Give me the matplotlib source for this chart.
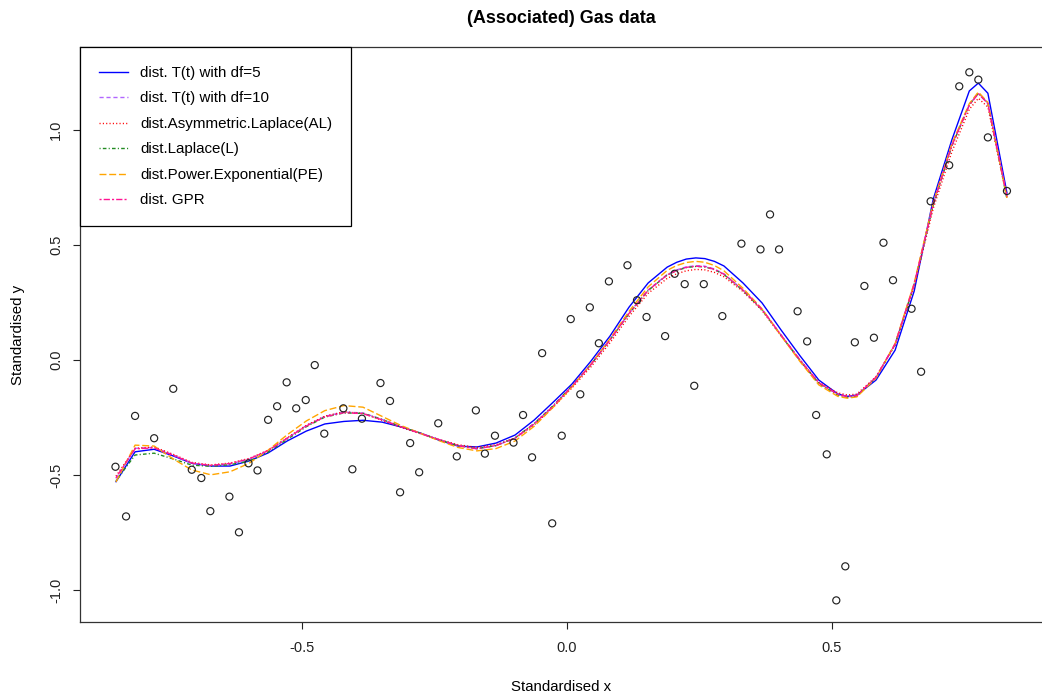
import matplotlib
matplotlib.use("Agg")
import matplotlib.pyplot as plt

plt.rcParams["font.family"] = ["Liberation Sans", "DejaVu Sans"]

# observed (standardised) gas data
x_obs = [-0.852, -0.832, -0.815, -0.779, -0.743, -0.708, -0.690, -0.673, -0.637, -0.619,
         -0.601, -0.584, -0.564, -0.547, -0.529, -0.511, -0.493, -0.476, -0.458, -0.422,
         -0.405, -0.387, -0.352, -0.334, -0.315, -0.296, -0.279, -0.243, -0.208, -0.172,
         -0.155, -0.136, -0.101, -0.083, -0.066, -0.047, -0.028, -0.010, 0.007, 0.025,
         0.043, 0.060, 0.079, 0.114, 0.132, 0.150, 0.185, 0.203, 0.222, 0.240,
         0.258, 0.293, 0.329, 0.365, 0.383, 0.400, 0.435, 0.453, 0.470, 0.490,
         0.508, 0.525, 0.543, 0.561, 0.579, 0.597, 0.615, 0.650, 0.668, 0.686,
         0.721, 0.740, 0.759, 0.776, 0.794, 0.830]
y_obs = [-0.464, -0.680, -0.243, -0.340, -0.125, -0.477, -0.513, -0.657, -0.594, -0.749,
         -0.449, -0.480, -0.260, -0.201, -0.097, -0.210, -0.174, -0.022, -0.320, -0.210,
         -0.475, -0.255, -0.100, -0.178, -0.575, -0.361, -0.488, -0.275, -0.419, -0.219,
         -0.407, -0.329, -0.359, -0.239, -0.423, 0.030, -0.710, -0.329, 0.178, -0.149,
         0.229, 0.073, 0.342, 0.412, 0.260, 0.187, 0.104, 0.375, 0.330, -0.112,
         0.330, 0.191, 0.506, 0.481, 0.633, 0.481, 0.212, 0.081, -0.239, -0.410,
         -1.045, -0.897, 0.077, 0.322, 0.097, 0.510, 0.347, 0.223, -0.051, 0.690,
         0.847, 1.190, 1.251, 1.219, 0.968, 0.735]

# fitted curves
x_fit = [-0.851, -0.815, -0.779, -0.743, -0.708, -0.672, -0.636, -0.600, -0.564, -0.528,
         -0.492, -0.457, -0.421, -0.385, -0.349, -0.313, -0.277, -0.242, -0.206, -0.170,
         -0.134, -0.098, -0.062, -0.026, 0.009, 0.045, 0.081, 0.117, 0.153, 0.189,
         0.207, 0.225, 0.243, 0.260, 0.278, 0.296, 0.332, 0.368, 0.404, 0.440, 0.475,
         0.511, 0.529, 0.547, 0.583, 0.619, 0.655, 0.691, 0.726, 0.759, 0.776, 0.794, 0.830]
y_t5 = [-0.529, -0.399, -0.388, -0.417, -0.449, -0.461, -0.461, -0.439, -0.404, -0.352,
        -0.309, -0.278, -0.267, -0.262, -0.270, -0.291, -0.317, -0.348, -0.374, -0.378,
        -0.361, -0.326, -0.261, -0.183, -0.105, -0.005, 0.104, 0.230, 0.335, 0.404,
        0.425, 0.439, 0.444, 0.441, 0.429, 0.409, 0.335, 0.248, 0.130, 0.017, -0.087,
        -0.148, -0.158, -0.152, -0.087, 0.043, 0.300, 0.700, 0.957, 1.170, 1.204, 1.160, 0.726]
y_t10 = [-0.515, -0.384, -0.380, -0.413, -0.449, -0.460, -0.452, -0.432, -0.396, -0.340,
         -0.285, -0.245, -0.226, -0.230, -0.258, -0.290, -0.318, -0.345, -0.372, -0.386,
         -0.372, -0.340, -0.278, -0.200, -0.115, -0.020, 0.088, 0.205, 0.305, 0.372,
         0.392, 0.405, 0.410, 0.408, 0.396, 0.375, 0.305, 0.220, 0.108, -0.002, -0.100,
         -0.150, -0.160, -0.155, -0.075, 0.070, 0.330, 0.680, 0.935, 1.110, 1.162, 1.116, 0.710]
y_al = [-0.505, -0.384, -0.378, -0.410, -0.445, -0.456, -0.448, -0.428, -0.392, -0.338,
        -0.284, -0.244, -0.225, -0.232, -0.262, -0.293, -0.320, -0.345, -0.368, -0.380,
        -0.368, -0.340, -0.282, -0.205, -0.122, -0.030, 0.075, 0.190, 0.290, 0.355,
        0.375, 0.388, 0.394, 0.392, 0.381, 0.362, 0.298, 0.215, 0.105, -0.002, -0.097,
        -0.143, -0.152, -0.148, -0.072, 0.065, 0.320, 0.660, 0.905, 1.090, 1.138, 1.100, 0.705]
y_lap = [-0.525, -0.413, -0.405, -0.430, -0.457, -0.462, -0.455, -0.440, -0.400, -0.345,
         -0.290, -0.248, -0.230, -0.232, -0.258, -0.290, -0.318, -0.347, -0.372, -0.385,
         -0.372, -0.338, -0.276, -0.198, -0.113, -0.020, 0.088, 0.202, 0.302, 0.370,
         0.389, 0.402, 0.407, 0.405, 0.393, 0.372, 0.302, 0.218, 0.106, -0.004, -0.102,
         -0.152, -0.162, -0.157, -0.077, 0.068, 0.328, 0.675, 0.930, 1.110, 1.160, 1.118, 0.700]
y_pe = [-0.530, -0.370, -0.374, -0.430, -0.478, -0.499, -0.486, -0.449, -0.392, -0.325,
        -0.265, -0.220, -0.198, -0.205, -0.245, -0.285, -0.318, -0.350, -0.380, -0.395,
        -0.385, -0.352, -0.288, -0.205, -0.118, -0.018, 0.092, 0.212, 0.318, 0.390,
        0.411, 0.424, 0.429, 0.425, 0.411, 0.388, 0.312, 0.222, 0.105, -0.008, -0.108,
        -0.158, -0.166, -0.160, -0.078, 0.072, 0.335, 0.685, 0.940, 1.115, 1.165, 1.120, 0.705]
y_gpr = [-0.512, -0.386, -0.382, -0.414, -0.448, -0.458, -0.450, -0.430, -0.394, -0.340,
         -0.287, -0.247, -0.229, -0.233, -0.260, -0.291, -0.319, -0.346, -0.372, -0.386,
         -0.372, -0.339, -0.277, -0.200, -0.115, -0.020, 0.087, 0.203, 0.303, 0.370,
         0.390, 0.403, 0.408, 0.406, 0.394, 0.373, 0.304, 0.220, 0.108, -0.001, -0.099,
         -0.149, -0.159, -0.154, -0.074, 0.070, 0.330, 0.678, 0.932, 1.108, 1.158, 1.115, 0.712]

labels = ["dist. T(t) with df=5", "dist. T(t) with df=10", "dist.Asymmetric.Laplace(AL)",
          "dist.Laplace(L)", "dist.Power.Exponential(PE)", "dist. GPR"]

fig = plt.figure(figsize=(10.42, 6.99), dpi=100)
ax = fig.add_axes([80 / 1042, 1 - 622 / 699, 963 / 1042, 575 / 699])

ax.scatter(x_obs, y_obs, s=26, facecolors="none", edgecolors="#222222", linewidths=0.85, zorder=3)

# R lty 1..6 look-alikes
styles = [
    (y_t5, "blue", "-"),
    (y_t10, "#b266ff", (0, (3, 2))),
    (y_al, "red", (0, (0.8, 1.6))),
    (y_lap, "#228b22", (0, (0.8, 1.6, 2.6, 1.6))),
    (y_pe, "orange", (0, (5, 2))),
    (y_gpr, "#ff1493", (0, (1.5, 1.5, 4.5, 1.5))),
]
for (ys, col, ls), lab in zip(styles, labels):
    ax.plot(x_fit, ys, color=col, linestyle=ls, linewidth=1.0, label=lab)

ax.set_xlim(-0.9189, 0.898)
ax.set_ylim(-1.139, 1.361)
ax.set_xticks([-0.5, 0.0, 0.5])
ax.set_xticklabels(["-0.5", "0.0", "0.5"])
ax.set_yticks([-1.0, -0.5, 0.0, 0.5, 1.0])
ax.set_yticklabels(["-1.0", "-0.5", "0.0", "0.5", "1.0"])
ax.tick_params(direction="out", length=5, width=0.8, labelsize=10.5, colors="#222222")
ax.tick_params(axis="x", pad=9)
ax.tick_params(axis="y", pad=7)
for t in ax.get_yticklabels():
    t.set_rotation(90)
    t.set_va("center")
for s in ax.spines.values():
    s.set_linewidth(0.9)
    s.set_color("#333333")

ax.set_xlabel("Standardised x", fontsize=10.8)
ax.xaxis.set_label_coords(0.5, -0.113)
ax.xaxis.label.set_va("center")
ax.set_ylabel("Standardised y", fontsize=10.8)
ax.yaxis.set_label_coords(-0.064, 0.5)
ax.yaxis.label.set_va("center")

ax.set_title("(Associated) Gas data", fontsize=13, fontweight="bold", pad=17)

leg = ax.legend(loc="upper left", borderaxespad=0, fancybox=False, framealpha=1,
                edgecolor="black", fontsize=10.9, handlelength=1.92, handletextpad=0.8,
                labelspacing=0.76, borderpad=1.25)
leg.get_frame().set_linewidth(0.9)

fig.savefig("out.png", dpi=100)
